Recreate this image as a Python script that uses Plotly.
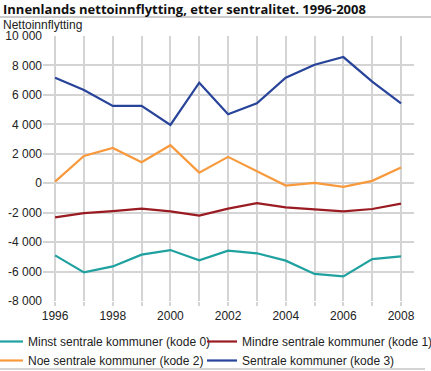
import plotly.graph_objects as go

years = list(range(1996, 2009))
kode0 = [-4900, -6060, -5650, -4850, -4540, -5240, -4580, -4760, -5260, -6160, -6330, -5150, -4970]
kode1 = [-2320, -2030, -1890, -1730, -1910, -2200, -1730, -1350, -1640, -1800, -1910, -1750, -1390]
kode2 = [110, 1850, 2400, 1430, 2580, 720, 1790, 790, -160, 20, -250, 160, 1060]
kode3 = [7170, 6330, 5250, 5250, 3960, 6830, 4680, 5430, 7170, 8050, 8570, 6900, 5430]

names = ["Minst sentrale kommuner (kode 0)", "Mindre sentrale kommuner (kode 1)",
         "Noe sentrale kommuner (kode 2)", "Sentrale kommuner (kode 3)"]
colors = ["#1fa19f", "#9b1b22", "#f8993c", "#27439a"]
series = [kode0, kode1, kode2, kode3]
legend_ids = ["legend", "legend2", "legend", "legend2"]

yticks = list(range(-8000, 10001, 2000))
ytext = [f"{v:,}".replace(",", " ") for v in yticks]
xtext = [str(y) if y % 2 == 0 else "" for y in years]

fig = go.Figure()
for n, c, s, lg in zip(names, colors, series, legend_ids):
    fig.add_trace(go.Scatter(x=years, y=s, name=n, mode="lines", legend=lg,
                             line=dict(color=c, width=2.2)))

L, R, T, B = 43, 17, 36, 70
W, H = 431, 371
pw, ph = W - L - R, H - T - B

leg_common = dict(orientation="v", yanchor="top", xanchor="left",
                  y=(H - B - 327) / ph,
                  font=dict(size=12, family="Liberation Sans, Arial, sans-serif", color="#222"),
                  tracegroupgap=0, itemwidth=30, traceorder="normal",
                  bgcolor="rgba(0,0,0,0)")

fig.update_layout(
    width=W, height=H,
    margin=dict(l=L, r=R, t=T, b=B, autoexpand=False),
    plot_bgcolor="white", paper_bgcolor="white",
    font=dict(family="Liberation Sans, Arial, sans-serif", size=12, color="#222"),
    showlegend=True,
    legend=dict(x=(-12 - L) / pw, **leg_common),
    legend2=dict(x=(202 - L) / pw, **leg_common),
    xaxis=dict(range=[1995.58, 2008.45], tickvals=years, ticktext=xtext,
               showgrid=True, gridcolor="#d4d4d4", gridwidth=1.5,
               ticks="outside", ticklen=4, tickcolor="#d4d4d4", tickwidth=1.5,
               zeroline=False, showline=False, tickfont=dict(size=12), automargin=False),
    yaxis=dict(range=[-8000, 10000], tickvals=yticks, ticktext=ytext,
               showgrid=True, gridcolor="#d4d4d4", gridwidth=1.5,
               zeroline=False, showline=False, ticks="", tickfont=dict(size=12),
               automargin=False),
)

fig.add_annotation(text="<b>Innenlands nettoinnflytting, etter sentralitet. 1996-2008</b>",
                   xref="paper", yref="paper", x=-(L - 1) / pw, y=1 + (T - 9) / ph,
                   xanchor="left", yanchor="middle", showarrow=False,
                   font=dict(size=13, family="Open Sans, sans-serif", color="#111"))
fig.add_annotation(text="Nettoinnflytting", xref="paper", yref="paper",
                   x=-(L - 1) / pw, y=1 + (T - 25) / ph, xanchor="left", yanchor="middle",
                   showarrow=False, font=dict(size=12, color="#222"))
fig.add_shape(type="line", xref="paper", yref="paper",
              x0=-L / pw, x1=(W - L) / pw, y0=1 + (T - 17) / ph, y1=1 + (T - 17) / ph,
              line=dict(color="#999", width=1))
fig.add_shape(type="line", xref="paper", yref="paper",
              x0=-L / pw, x1=(425 - L) / pw, y0=-(369 - T - ph) / ph, y1=-(369 - T - ph) / ph,
              line=dict(color="#aaa", width=1))

fig.write_html("out.html", config={"displayModeBar": False},
               post_script="document.body.style.margin='0';")
